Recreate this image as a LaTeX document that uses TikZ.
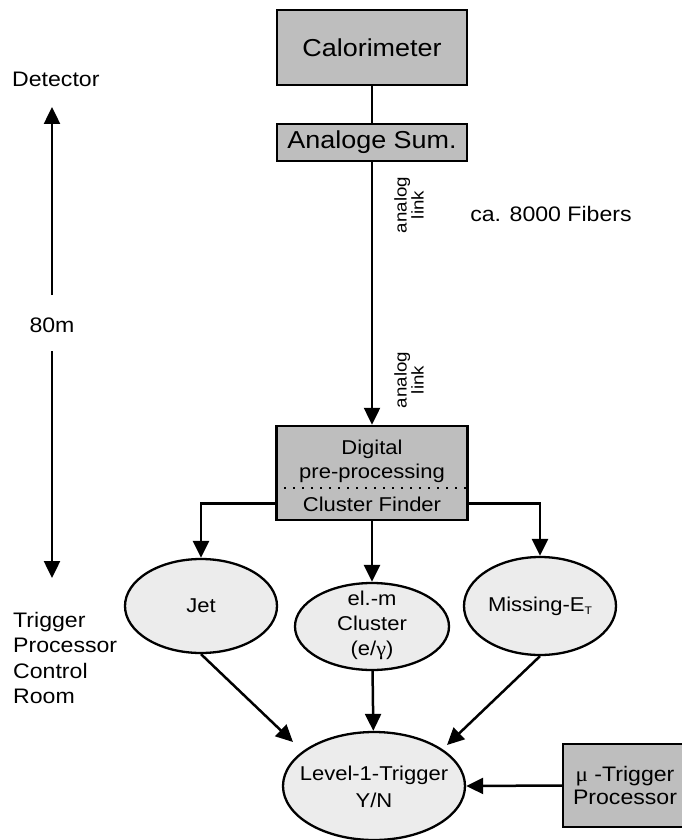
\documentclass[tikz,border=0pt]{standalone}
\usepackage{fontspec}
\setmainfont[FakeStretch=1.1]{Liberation Sans}
\newfontfamily\greekfont[FakeStretch=1.1]{Liberation Serif}
\usetikzlibrary{arrows.meta,shapes.geometric}
\definecolor{boxgray}{RGB}{190,190,190}
\definecolor{ovalgray}{RGB}{236,236,236}
\tikzset{
  txt/.style={font=\fontsize{20}{24}\selectfont, inner sep=0pt, align=center},
  sidetxt/.style={txt, font=\fontsize{21}{25.3}\selectfont},
  box/.style={draw, line width=2.5pt, fill=boxgray, inner sep=0pt, align=center,
              font=\fontsize{20}{24}\selectfont},
  bigbox/.style={box, font=\fontsize{24.5}{28}\selectfont},
  oval/.style={ellipse, draw, line width=2.3pt, fill=ovalgray, inner sep=0pt,
               align=center, font=\fontsize{20}{25}\selectfont},
  wire/.style={line width=2.5pt},
  arr/.style={wire, -{Triangle[length=17pt,width=16pt]}},
}
\begin{document}
\begin{tikzpicture}[x=1pt,y=-1pt]
\useasboundingbox (0,0) rectangle (682,840);

% detector side
\node[bigbox, minimum width=190pt, minimum height=75pt] (cal) at (372,47.5) {Calorimeter};
\node[bigbox, minimum width=190pt, minimum height=37pt] (sum) at (372,142.5) {Analoge Sum.};

% digital pre-processing / cluster finder
\node[box, minimum width=191pt, minimum height=94pt] (dig) at (372,473) {};
\node[txt] (digtxt) at (372,476) {Digital\\pre-processing\\[9pt]Cluster Finder};
\draw[line width=1.5pt, dash pattern=on 1.5pt off 7.5pt]
  ([yshift=-15pt]dig.west) -- ([yshift=-15pt]dig.east);

% trigger algorithms
\node[oval, minimum width=152pt, minimum height=94pt] (jet) at (201,606) {Jet};
\node[oval, minimum width=154pt, minimum height=87pt] (elm) at (372,626.5) {};
\node[txt, font=\fontsize{20}{25}\selectfont] (elmtxt) at (372,625) {el.-m\\Cluster\\(e/{\greekfont γ})};
\node[oval, minimum width=152pt, minimum height=98pt] (miss) at (540,606)
  {Missing-E\raisebox{-3pt}{\fontsize{11}{11}\selectfont T}};

% decision
\node[oval, minimum width=182pt, minimum height=108pt] (lvl) at (374,786) {};
\node[txt, font=\fontsize{20}{27}\selectfont] (lvltxt) at (374,787) {Level-1-Trigger\\Y/N};
\node[box, minimum width=124pt, minimum height=83pt, font=\fontsize{21}{23}\selectfont]
  (mu) at (625,785.5) {{\greekfont μ} -Trigger\\Processor};

% labels
\node[sidetxt, anchor=west] (det) at (12,79.5) {Detector};
\node[sidetxt] (len) at (52,325) {80m};
\node[sidetxt, anchor=west, align=left] (room) at (13,658) {Trigger\\Processor\\Control\\Room};
\node[txt, font=\fontsize{21}{25}\selectfont] (fib) at (551,213.5) {ca. 8000 Fibers};
\node[txt, rotate=90, font=\fontsize{17}{15}\selectfont] (link1) at (409,205) {analog\\link};
\node[txt, rotate=90, font=\fontsize{17}{15}\selectfont] (link2) at (409,380) {analog\\link};

% distance scale
\coordinate (scaletop) at (52,107);
\coordinate (scalebot) at (52,578);
\draw[arr] ([yshift=30pt]len.center) -- (scaletop);
\draw[arr] ([yshift=-26pt]len.center) -- (scalebot);

% signal flow
\draw[wire] (cal) -- (sum);
\draw[arr] (sum) -- (dig);
\draw[arr] ([yshift=18pt]dig.south west) -| (jet.north);
\draw[arr] ([yshift=18pt]dig.south east) -| (miss.north);
\draw[arr] (dig) -- (elm);
\coordinate (lvlleft) at (293,742);
\coordinate (lvlright) at (447,745);
\draw[arr] (jet.south) -- (lvlleft);
\draw[arr] (elm) -- (lvl);
\draw[arr] (miss.south) -- (lvlright);
\draw[arr] (mu.west) -- (lvl.east);
\end{tikzpicture}
\end{document}
